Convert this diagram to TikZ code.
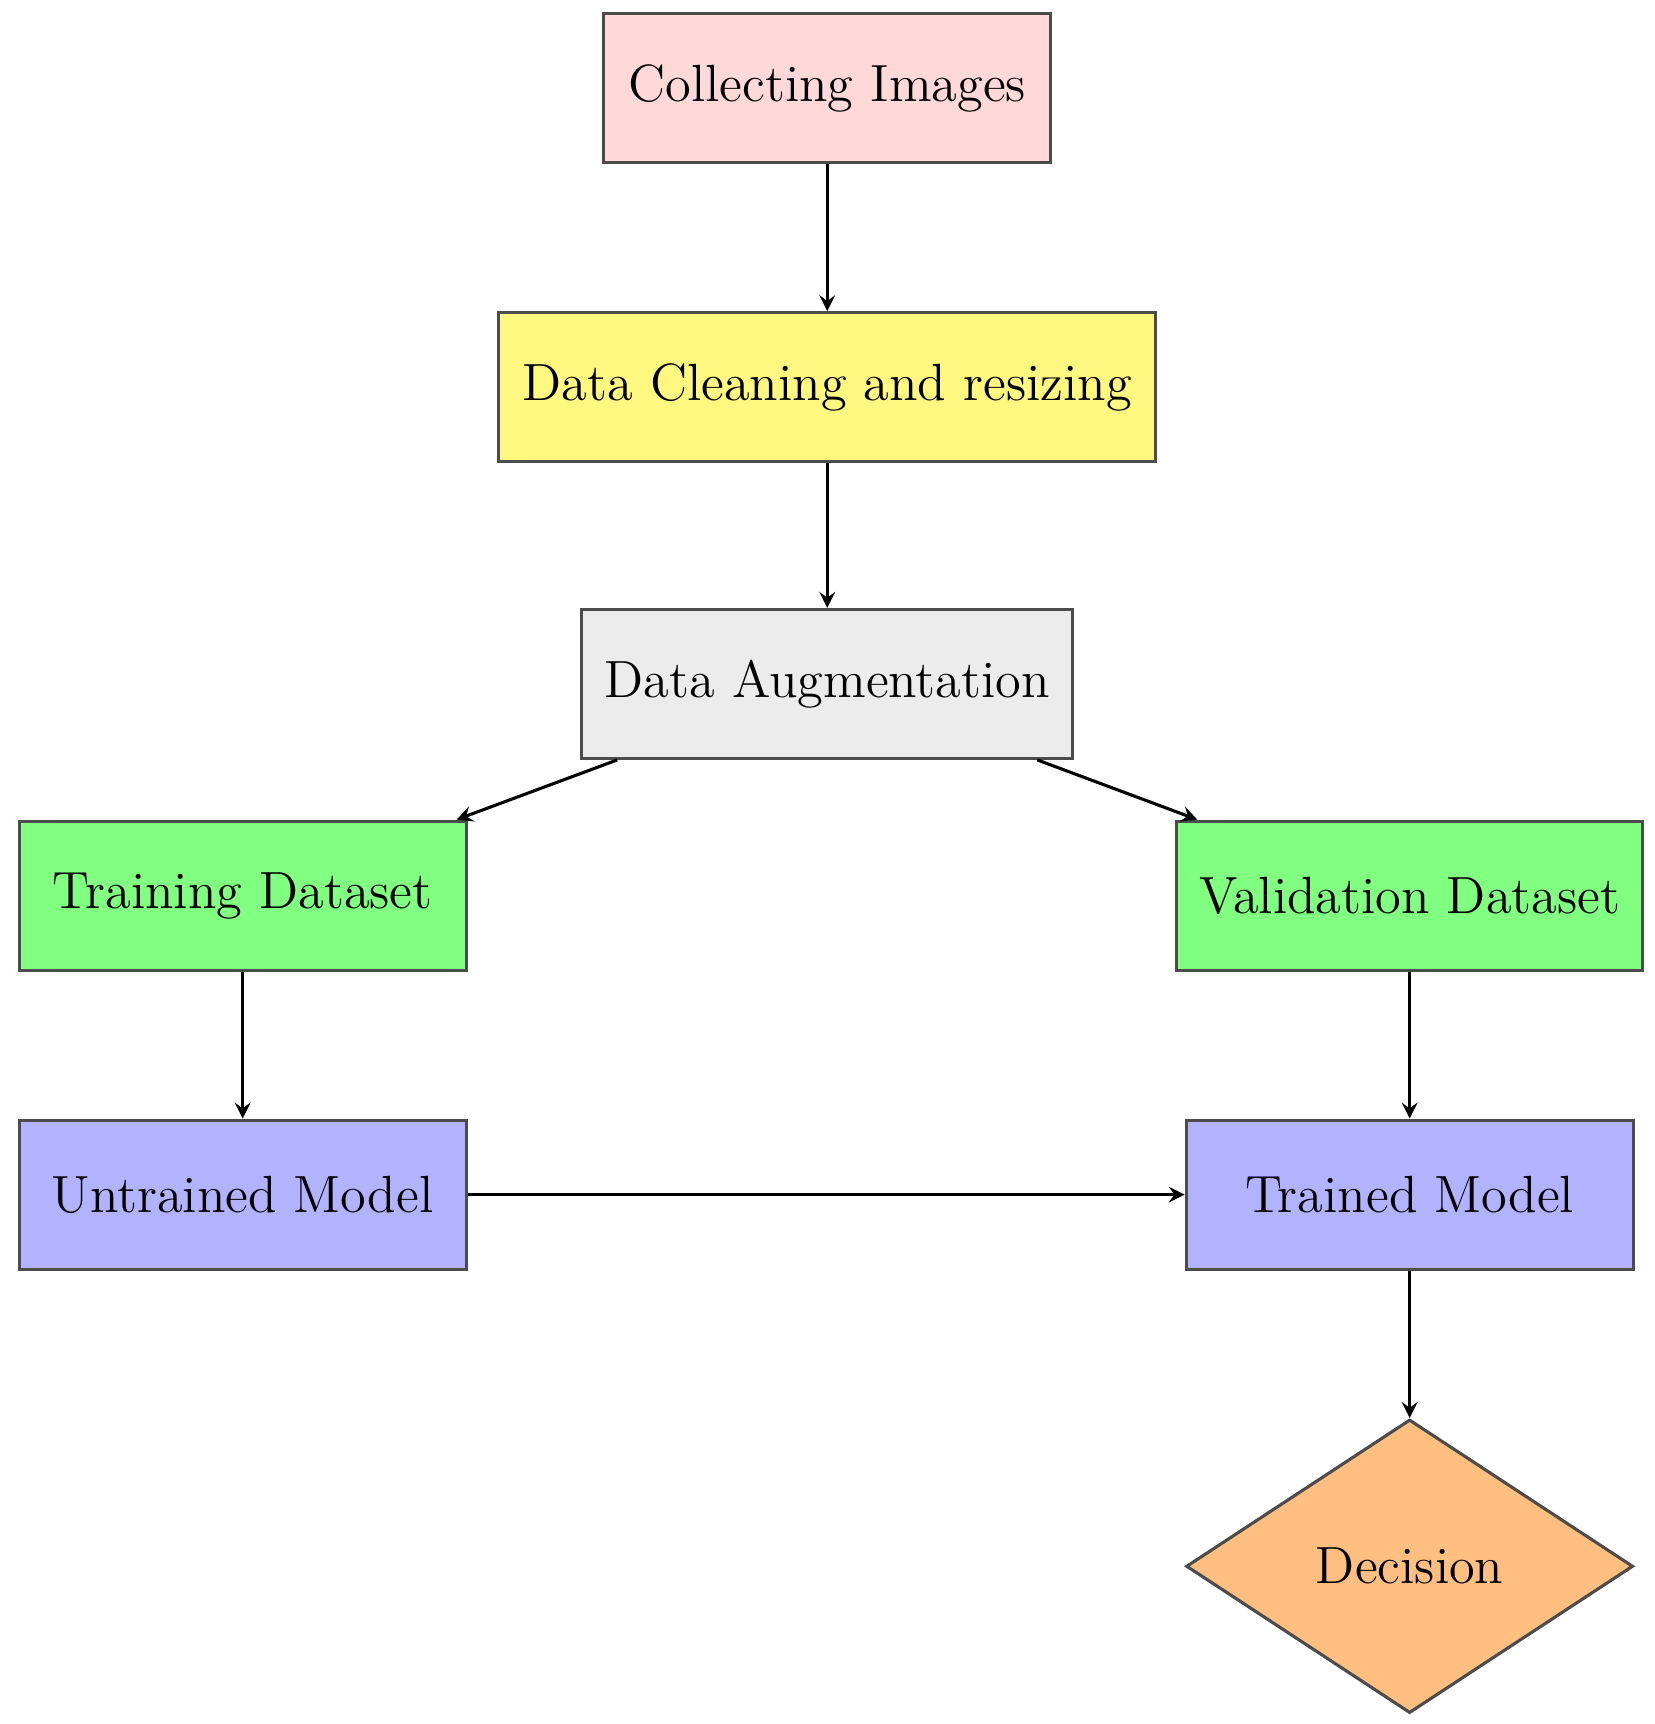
\documentclass[tikz,border=0pt]{standalone}
\usetikzlibrary{shapes.geometric,calc}
\begin{document}
\begin{tikzpicture}[x=0.01cm,y=-0.01cm,
  box/.style={draw=black!70,thick,rectangle,minimum height=1.35cm,inner sep=0pt,font=\fontsize{13.5}{16}\selectfont},
  arr/.style={->,thick,>=stealth}]
\useasboundingbox (0,0) rectangle (1500,1563);
\node[box,fill=red!15,minimum width=4.05cm] (col) at (750,80) {Collecting Images};
\node[box,fill=yellow!50,minimum width=5.95cm] (clean) at (750,351) {Data Cleaning and resizing};
\node[box,fill=gray!15,minimum width=4.45cm] (aug) at (750,620) {Data Augmentation};
\node[box,fill=green!50,minimum width=4.05cm] (train) at (220,812) {Training Dataset};
\node[box,fill=green!50,minimum width=4.22cm] (val) at (1278,812) {Validation Dataset};
\node[box,fill=blue!30,minimum width=4.05cm] (untr) at (220,1083) {Untrained Model};
\node[box,fill=blue!30,minimum width=4.05cm] (trd) at (1278,1083) {Trained Model};
\node[draw=black!70,thick,diamond,fill=orange!50,minimum width=4.05cm,minimum height=2.66cm,inner sep=0pt,font=\fontsize{13.5}{16}\selectfont] (dec) at (1278,1420) {Decision};
\draw[arr] (col) -- (clean);
\draw[arr] (clean) -- (aug);
\draw[arr] ($(aug.south west)!0.075!(aug.south east)$) -- ($(train.north east)+(-10,0)$);
\draw[arr] ($(aug.south west)!0.925!(aug.south east)$) -- ($(val.north west)+(20,0)$);
\draw[arr] (train) -- (untr);
\draw[arr] (val) -- (trd);
\draw[arr] (untr) -- (trd);
\draw[arr] (trd) -- (dec);
\end{tikzpicture}
\end{document}
